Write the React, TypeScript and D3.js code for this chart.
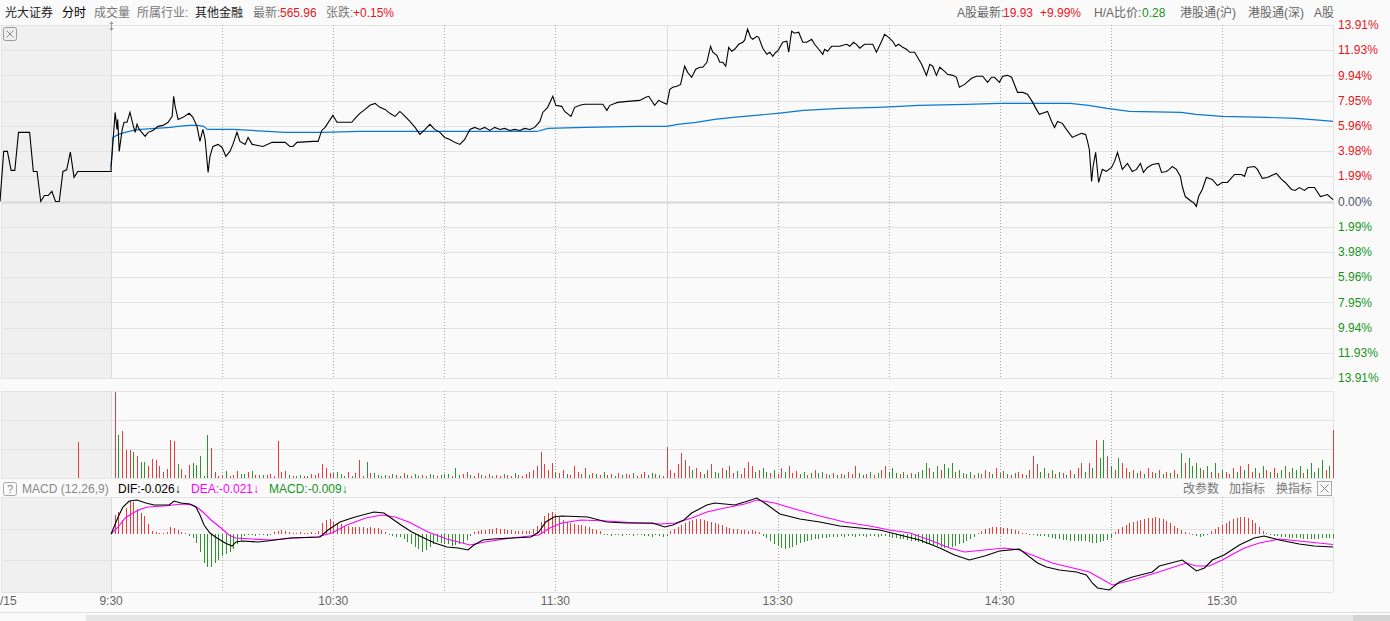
import React from 'react';
import * as d3 from 'd3';

// pre-market 09:00-09:30, % change, one value per minute
const preMarketPct = [
  0, 3.95, 3.95, 2.45, 2.45, 5.45, 5.45, 5.45, 5.45, 2.37, 2.37, 0, 0.47, 0.47, 0.8, 0,
  0, 2.37, 2.5, 3.9, 1.9, 2.37, 2.37, 2.37, 2.37, 2.37, 2.37, 2.37, 2.37, 2.37, 2.37,
];

// main session: [minutes after 09:30 (lunch removed), % change]
const price: [number, number][] = [
  [0, 2.76], [1.1, 7.02], [1.6, 5.68], [1.8, 6.47], [2.2, 3.95], [3.0, 5.68], [3.5, 6.24], [4.3, 6.24],
  [5.1, 7.02], [5.9, 6.08], [6.5, 5.45], [7.0, 6.08], [7.6, 5.68], [9.2, 5.13], [10.0, 5.45], [11.3, 5.6],
  [12.7, 5.92], [14.0, 6.0], [15.4, 6.24], [16.5, 6.71], [16.9, 8.29], [17.3, 7.5], [18.1, 6.47], [19.4, 6.63],
  [21.1, 6.95], [22.1, 6.63], [23.2, 5.92], [24.0, 4.74], [24.8, 5.68], [25.4, 4.89], [26.2, 2.29], [26.7, 3.55],
  [27.5, 4.34], [28.9, 4.5], [30.0, 4.26], [31.0, 3.55], [32.1, 3.95], [32.9, 4.5], [34.0, 5.45], [34.8, 4.74],
  [36.2, 4.5], [37.0, 5.05], [38.1, 4.5], [39.7, 4.42], [41.0, 4.34], [43.5, 4.66], [47.0, 4.66], [48.3, 4.34],
  [49.1, 4.34], [50.2, 4.66], [54.5, 4.74], [55.9, 4.74], [56.9, 5.6], [57.8, 5.84], [59.9, 6.79], [61.0, 6.24],
  [65.0, 6.24], [65.9, 6.55], [67.2, 6.95], [68.6, 7.26], [69.9, 7.58], [71.3, 7.73], [72.6, 7.42], [74.0, 7.26],
  [75.3, 6.95], [76.7, 6.71], [78.0, 7.1], [79.4, 6.71], [80.7, 6.31], [82.1, 5.84], [83.4, 5.29], [84.8, 5.68],
  [86.1, 6.08], [87.4, 5.68], [88.8, 5.45], [90.1, 5.05], [91.5, 4.89], [92.8, 4.66], [94.2, 4.5], [95.5, 4.89],
  [96.9, 5.68], [98.2, 5.84], [99.6, 5.68], [100.9, 5.84], [102.3, 5.6], [103.6, 5.84], [105.0, 5.68], [106.3, 5.76],
  [107.7, 5.6], [109.0, 5.68], [110.4, 5.6], [111.7, 5.76], [113.1, 5.68], [114.4, 5.84], [115.8, 6.31], [116.6, 7.02],
  [117.9, 7.42], [119.3, 8.29], [120.1, 7.58], [121.7, 7.5], [122.5, 7.1], [124.2, 6.71], [125.2, 7.42], [126.6, 7.58],
  [127.9, 7.66], [132.8, 7.66], [133.9, 7.18], [134.7, 7.58], [136.0, 7.73], [136.8, 7.81], [139.5, 7.89], [142.8, 7.97],
  [144.4, 8.21], [145.2, 8.29], [146.8, 7.58], [147.9, 7.97], [149.0, 7.81], [150.1, 7.66], [150.9, 8.84], [151.7, 9.0],
  [152.8, 9.08], [153.8, 9.23], [154.9, 10.66], [155.7, 10.18], [156.8, 9.79], [157.9, 10.42], [159.0, 10.58], [159.8, 10.58],
  [160.9, 10.97], [161.9, 12.23], [162.5, 11.76], [163.6, 11.52], [164.4, 10.97], [165.2, 10.97], [166.0, 10.66], [166.8, 12.15],
  [167.6, 11.84], [168.4, 12.0], [169.5, 12.39], [170.6, 12.55], [171.1, 12.71], [171.9, 13.58], [172.7, 12.94], [173.3, 12.79],
  [174.4, 13.02], [174.9, 12.94], [176.0, 12.08], [177.1, 11.6], [177.9, 11.76], [178.7, 11.44], [179.5, 11.76], [180.0, 11.84],
  [181.4, 12.55], [182.5, 12.63], [183.0, 11.76], [183.8, 13.42], [184.6, 13.26], [185.7, 13.34], [186.8, 12.55], [187.9, 12.55],
  [189.2, 12.79], [190.0, 12.39], [191.1, 12.0], [192.2, 11.6], [192.7, 12.0], [193.5, 11.84], [194.6, 12.23], [196.8, 12.23],
  [197.6, 12.31], [198.7, 12.39], [199.5, 12.23], [200.5, 12.55], [201.3, 12.39], [202.2, 12.08], [203.5, 12.39], [205.7, 12.39],
  [206.7, 11.76], [208.1, 12.63], [208.9, 13.18], [210.0, 12.94], [211.1, 12.63], [211.9, 12.23], [212.7, 12.39], [213.8, 12.15],
  [214.8, 12.0], [215.7, 11.76], [217.0, 11.76], [217.8, 11.37], [218.9, 10.81], [220.2, 9.94], [221.1, 10.81], [221.9, 10.66],
  [222.9, 9.94], [223.8, 10.58], [225.1, 10.26], [225.9, 10.02], [227.3, 9.94], [228.3, 9.79], [229.1, 9.0], [230.5, 9.23],
  [232.4, 9.71], [233.7, 9.87], [235.4, 9.87], [236.7, 9.39], [237.8, 9.79], [238.6, 9.79], [239.9, 9.39], [240.8, 9.87],
  [242.1, 9.94], [243.2, 9.79], [244.8, 8.6], [246.2, 8.6], [247.5, 8.45], [248.9, 7.81], [249.9, 7.26], [250.7, 6.87],
  [252.1, 7.02], [252.9, 7.1], [254.0, 6.31], [254.8, 5.84], [255.6, 6.31], [256.9, 6.16], [258.0, 5.68], [259.6, 5.05],
  [260.7, 5.21], [262.1, 5.37], [263.2, 5.29], [263.7, 4.74], [264.2, 4.1], [264.8, 1.58], [265.2, 2.76], [265.9, 3.87],
  [266.7, 1.5], [267.7, 2.53], [268.8, 2.37], [270.2, 2.68], [271.0, 3.16], [271.8, 3.87], [273.1, 2.53], [274.5, 3.0],
  [275.8, 2.37], [276.9, 2.53], [278.0, 3.0], [278.8, 2.29], [279.9, 2.68], [281.2, 2.92], [282.9, 3.0], [283.7, 2.29],
  [285.0, 2.37], [285.8, 2.53], [286.6, 2.76], [287.7, 2.53], [288.8, 1.97], [289.3, 1.18], [290.1, 0.39], [291.8, 0.0],
  [292.3, -0.08], [293.1, -0.39], [293.7, 0.39], [294.7, 0.95], [295.8, 1.89], [297.4, 1.74], [298.8, 1.26], [300.1, 1.5],
  [301.5, 1.5], [303.4, 2.13], [305.3, 2.13], [306.1, 1.97], [306.9, 2.68], [308.8, 2.76], [309.6, 2.53], [310.9, 1.82],
  [312.3, 1.89], [313.4, 2.05], [314.7, 2.21], [316.1, 1.74], [317.1, 1.5], [318.8, 0.95], [319.8, 0.87], [320.9, 1.1],
  [322.3, 0.87], [323.3, 1.1], [325.0, 1.1], [326.6, 0.39], [327.7, 0.47], [328.5, 0.55], [330, 0.15],
];

// average price line, % change
const avgPrice: [number, number][] = [
  [0, 2.76], [0.3, 3.87], [0.5, 5.05], [2, 5.29], [3.8, 5.45], [6, 5.6], [8, 5.68], [16, 5.84], [18, 5.92],
  [21, 6.0], [23.5, 6.0], [25, 5.92], [26, 5.68], [33, 5.68], [47, 5.45], [57, 5.45], [67, 5.52], [115, 5.52],
  [118, 5.76], [128, 5.84], [142, 5.92], [150, 5.92], [153, 6.08], [158, 6.24], [163, 6.47], [168, 6.63],
  [174, 6.79], [180, 6.95], [187, 7.18], [197, 7.34], [207, 7.42], [213, 7.5], [218, 7.58], [231, 7.66],
  [240, 7.73], [259, 7.73], [264, 7.58], [269, 7.34], [275, 7.1], [289, 7.02], [293, 6.87], [300, 6.71],
  [312, 6.63], [320, 6.55], [327, 6.39], [330, 6.31],
];

const pctTicks = [13.91, 11.93, 9.94, 7.95, 5.96, 3.98, 1.99, 0, -1.99, -3.98, -5.96, -7.95, -9.94, -11.93, -13.91];

const timeTickMin = [0, 60, 120, 180, 240, 300];
const timeTickLabels = ['9:30', '10:30', '11:30', '13:30', '14:30', '15:30'];
const dottedMin = [30, 60, 90, 120, 180, 210, 240, 270, 300];
const solidMin = [0, 150];

// pre-market auction volume
const preVolume: [number, number][] = [[-9, 36]];

// per-minute volume, minutes 1..330
const volume = [
  86, 43, 47, 28, 28, 26, 22, 16, 16, 12,
  19, 18, 12, 6, 9, 38, 37, 14, 9, 3,
  13, 15, 13, 22, 2, 43, 30, 6, 2, 3,
  7, 2, 3, 7, 4, 4, 6, 7, 3, 3,
  3, 3, 4, 2, 37, 6, 7, 3, 2, 2,
  3, 2, 2, 4, 3, 5, 14, 10, 5, 5,
  6, 4, 2, 6, 2, 5, 18, 2, 16, 5,
  5, 3, 2, 3, 2, 4, 3, 2, 5, 3,
  2, 4, 2, 3, 2, 4, 3, 2, 3, 4,
  4, 2, 10, 3, 4, 6, 3, 2, 5, 3,
  2, 4, 2, 3, 2, 4, 3, 2, 5, 3,
  2, 4, 6, 8, 12, 26, 14, 8, 15, 6,
  5, 8, 4, 3, 12, 6, 4, 10, 3, 5,
  4, 3, 6, 3, 4, 2, 5, 3, 4, 3,
  5, 2, 4, 6, 3, 5, 4, 3, 2, 31,
  8, 5, 14, 25, 18, 12, 8, 10, 6, 4,
  8, 14, 6, 5, 10, 8, 12, 5, 7, 4,
  10, 16, 12, 6, 8, 10, 6, 5, 8, 4,
  10, 6, 12, 5, 7, 4, 6, 3, 5, 8,
  5, 6, 4, 3, 5, 3, 4, 3, 6, 4,
  12, 5, 3, 4, 6, 3, 5, 8, 12, 6,
  10, 5, 4, 6, 3, 5, 4, 6, 8, 15,
  10, 6, 12, 8, 14, 10, 15, 6, 8, 5,
  4, 6, 3, 5, 4, 8, 6, 4, 10, 5,
  7, 4, 3, 5, 6, 4, 3, 8, 22, 14,
  6, 10, 5, 8, 4, 6, 5, 3, 8, 4,
  10, 15, 6, 15, 10, 38, 20, 38, 22, 12,
  8, 20, 15, 10, 6, 8, 5, 7, 4, 10,
  6, 5, 8, 4, 6, 5, 8, 4, 25, 15,
  20, 12, 15, 10, 8, 12, 6, 15, 5, 8,
  6, 4, 10, 6, 12, 8, 14, 6, 10, 5,
  12, 8, 6, 10, 5, 8, 12, 6, 10, 8,
  12, 5, 9, 15, 6, 10, 18, 8, 12, 48,
];
// r = up minute, g = down minute
const volumeDir = [
  'rgrrrgrggr', 'rrrrrrrgrr', 'rgggggrrrr', 'grrrggrgrr', 'grrrrrrgrg',
  'grgrrrrrrr', 'gggrgrrrgr', 'ggggrgrgrg', 'rggrrggrgg', 'grggrrgrrg',
  'rrgrrgrrgr', 'rrrrrrrrrg', 'rrgrrrgrgr', 'grgrrgrgrr', 'grrrggrgrr',
  'rrrrrrgrrg', 'rrggrgrrgr', 'rrrgrggrgr', 'rgrrrggrgr', 'ggrgrgrgrr',
  'rggrgrgrrg', 'ggrggrgggg', 'rggrgggrgg', 'ggrgrrrgrg', 'rgrgrrgrrr',
  'ggrgrgrgrg', 'rrgrgrggrg', 'rgrrgrgrgr', 'rgrgrgrggr', 'ggggrgrgrg',
  'rrrgrgrrgr', 'grgrgggrgg', 'grgggggrgr',
].join('');

// MACD(12,26,9)
const dif: [number, number][] = [
  [0, 0], [1.9, 0.034], [3.2, 0.054], [4.9, 0.066], [7.0, 0.068], [9.4, 0.062], [11.6, 0.058], [15.7, 0.058],
  [17.0, 0.066], [18.9, 0.062], [21.3, 0.06], [22.9, 0.054], [24.0, 0.038], [25.1, 0.018], [26.7, 0.002],
  [28.6, -0.008], [30.8, -0.018], [32.7, -0.024], [33.7, -0.016], [35.4, -0.014], [39.9, -0.016], [44.3, -0.012],
  [48.3, -0.008], [56.4, -0.006], [58.6, 0.008], [61.8, 0.024], [65.9, 0.034], [71.0, 0.044], [73.7, 0.042],
  [75.6, 0.032], [78.3, 0.018], [81.2, 0.004], [84.5, -0.008], [87.4, -0.018], [90.7, -0.026], [93.7, -0.028],
  [96.4, -0.032], [98.0, -0.022], [100.4, -0.012], [103.1, -0.01], [113.4, -0.006], [115.5, 0.004], [117.4, 0.024],
  [119.6, 0.034], [121.7, 0.036], [128.7, 0.034], [133.9, 0.024], [139.3, 0.022], [146.3, 0.022], [149.5, 0.014],
  [151.7, 0.018], [154.7, 0.028], [156.8, 0.042], [160.9, 0.058], [163.0, 0.062], [168.4, 0.058], [171.1, 0.064],
  [174.4, 0.072], [177.3, 0.058], [180.6, 0.04], [186.0, 0.03], [191.4, 0.024], [196.8, 0.016], [202.2, 0.012],
  [207.6, 0.008], [213.0, -0.002], [218.4, -0.012], [223.8, -0.028], [227.8, -0.042], [231.8, -0.052],
  [235.9, -0.044], [239.9, -0.034], [245.3, -0.03], [250.2, -0.058], [252.6, -0.066], [256.1, -0.072],
  [260.7, -0.076], [263.4, -0.082], [265.0, -0.098], [266.4, -0.108], [269.6, -0.112], [272.3, -0.096],
  [275.8, -0.086], [281.2, -0.076], [283.1, -0.064], [289.3, -0.052], [293.1, -0.074], [295.3, -0.068],
  [297.4, -0.052], [300.6, -0.042], [304.7, -0.022], [308.7, -0.008], [311.4, -0.004], [315.5, -0.012],
  [320.9, -0.02], [324.9, -0.024], [330, -0.026],
];
const dea: [number, number][] = [
  [0, 0], [1.9, 0.014], [3.8, 0.032], [5.9, 0.042], [8.1, 0.05], [10.0, 0.054], [14.3, 0.056], [16.7, 0.058],
  [19.4, 0.06], [21.9, 0.058], [23.5, 0.052], [25.1, 0.042], [27.0, 0.028], [29.7, 0.012], [31.8, -0.002],
  [33.7, -0.008], [38.1, -0.01], [43.2, -0.012], [49.4, -0.008], [55.6, -0.006], [59.6, 0.002], [63.7, 0.018],
  [68.8, 0.032], [73.1, 0.038], [76.7, 0.034], [80.4, 0.024], [85.6, 0.004], [90.7, -0.01], [96.9, -0.022],
  [100.9, -0.016], [108.2, -0.008], [115.5, -0.002], [118.5, 0.012], [121.7, 0.022], [126.9, 0.028],
  [133.9, 0.026], [142.2, 0.022], [148.4, 0.02], [152.5, 0.022], [156.8, 0.032], [160.9, 0.044], [165.7, 0.052],
  [171.1, 0.06], [174.4, 0.068], [179.2, 0.062], [184.6, 0.05], [191.4, 0.036], [198.1, 0.024], [204.9, 0.016],
  [210.3, 0.008], [215.7, 0.002], [221.1, -0.012], [226.5, -0.028], [230.5, -0.036], [235.9, -0.032],
  [241.3, -0.028], [245.3, -0.032], [254.2, -0.058], [264.2, -0.076], [270.4, -0.102], [275.8, -0.092],
  [281.2, -0.08], [290.4, -0.058], [293.1, -0.064], [296.6, -0.064], [300.1, -0.052], [303.0, -0.04],
  [306.1, -0.028], [310.1, -0.018], [315.5, -0.01], [320.9, -0.014], [330, -0.021],
];
// MACD histogram, minutes 0..330, in units of 0.001
const macdHist = [
  0, 38, 44, 28, 52, 66, 64, 50, 42, 36, 20, 6, 4, 2, 2, 4, 14, 12, 8, 4, 2,
  -4, -8, -18, -36, -58, -66, -66, -58, -52, -44, -40, -36, -30, -20, -12, -4,
  -2, -2, -4, -2, -2, -4, -2,
  4, 6, 8, 6, 4, 2, 2, 4, 2, 2, 4, 2, 6,
  22, 28, 30, 24, 22, 20, 16, 16, 14, 14, 14, 14, 12, 14, 12, 12, 8, 4,
  -2, -4, -6, -6, -10, -16, -20, -26, -30, -36, -32, -26, -20,
  -16, -18, -20, -20, -24, -22, -20, -18, -12, -4,
  4, 6, 8, 8, 10, 10, 12, 10, 10, 8, 8, 6, 6, 6, 6, 6,
  10, 16, 24, 36, 42, 44, 40,
  34, 28, 24, 22, 20, 18, 18, 16, 14, 10, 8, 6,
  -2, -2, -4, -2, -2, -4, -2, -2, -4, -2, -2, -4, -4, -6, -2, -4, -6, -4,
  6, 10, 14, 18, 22, 26, 28, 30, 30, 28,
  26, 24, 22, 20, 18, 14, 12, 10, 10, 8, 8, 6, 8, 6, 4,
  -4, -8, -14, -20, -24, -28, -30, -28, -26, -22,
  -18, -16, -14, -12, -10, -10, -8, -8, -6, -6,
  -6, -4, -6, -4, -4, -6, -4, -4, -6, -4, -4, -6, -4, -4, -6,
  -8, -8, -10, -10, -12, -14, -14, -16, -18, -20, -20, -22,
  -24, -26, -28, -28, -26, -24, -20, -18, -14, -10, -6,
  2, 6, 10, 12, 14, 14, 14, 12, 12, 10, 8, 6,
  2, 2, -2, -2, -4, -4, -4,
  -6, -8, -10, -10, -12, -12, -14, -14, -14, -14,
  -14, -16, -18, -18, -16, -14, -12, -8,
  4, 10, 14, 18, 22, 24, 26, 28, 30, 32, 32, 34, 32, 30, 26,
  22, 16, 12, 8, 4, 2, -2,
  -4, -6, -4, -2,
  6, 10, 14, 18, 22, 26, 30, 32, 34, 34, 32, 28, 22, 14,
  6, 2, -2, -4, -4, -6, -6, -8, -8, -8, -8, -10, -10, -10, -10, -10, -8, -8, -8, -9,
];

const FONT = '"Liberation Sans", Arial, "Noto Sans CJK SC", sans-serif';
const RED = '#e8161d';
const GREEN = '#16951c';
const BAR_RED = '#e83b3b';
const BAR_GREEN = '#2b952b';
const GRID = '#e3e3e3';

const PLOT_L = 1;
const PLOT_R = 1333;
const MAIN = { top: 25, bottom: 378 };
const VOL = { top: 391, bottom: 478 };
const MACD = { top: 497, bottom: 592 };

export default function App() {
  const x = d3.scaleLinear().domain([-30, 330]).range([0, PLOT_R]);
  const yP = d3.scaleLinear().domain([-13.91, 13.91]).range([MAIN.bottom, MAIN.top]);
  const yV = d3.scaleLinear().domain([0, 87]).range([VOL.bottom, VOL.top]);
  const yM = d3.scaleLinear().domain([-0.116, 0.074]).range([MACD.bottom, MACD.top]);

  const priceLine = d3.line<[number, number]>().x((d) => x(d[0])).y((d) => yP(d[1]));
  const macdLine = d3.line<[number, number]>().x((d) => x(d[0])).y((d) => yM(d[1]));

  const pricePts: [number, number][] = [
    ...preMarketPct.map((v, i) => [i - 30, v] as [number, number]),
    ...price,
  ];

  const px = (m: number) => Math.round(x(m)) + 0.5;
  const panels = [MAIN, VOL, MACD];
  const volGrid = d3.range(4).map((i) => VOL.top + (i * (VOL.bottom - VOL.top)) / 3);
  const macdGrid = d3.range(4).map((i) => MACD.top + (i * (MACD.bottom - MACD.top)) / 3);

  const last = (a: [number, number][]) => a[a.length - 1][1];
  const macdLast = macdHist[macdHist.length - 1] / 1000;

  return (
    <div style={{ position: 'fixed', left: 0, top: 0 }}>
      <svg width={1390} height={621} style={{ display: 'block', background: '#fafafa' }} fontFamily={FONT} fontSize={12}>
        {/* pre-market shaded zone */}
        {panels.map((p, i) => (
          <rect key={i} x={PLOT_L + 1} y={p.top} width={px(0) - PLOT_L - 1.5} height={p.bottom - p.top} fill="#f0f0f0" />
        ))}

        {/* horizontal grid */}
        {pctTicks.map((t) => (
          <line key={t} x1={PLOT_L} x2={PLOT_R} y1={Math.round(yP(t)) + 0.5} y2={Math.round(yP(t)) + 0.5}
            stroke={t === 0 ? '#d6d6d6' : GRID} strokeWidth={t === 0 ? 2 : 1} />
        ))}
        {volGrid.map((g) => (
          <line key={g} x1={PLOT_L} x2={PLOT_R} y1={Math.round(g) + 0.5} y2={Math.round(g) + 0.5} stroke={GRID} />
        ))}
        {macdGrid.map((g) => (
          <line key={g} x1={PLOT_L} x2={PLOT_R} y1={Math.round(g) + 0.5} y2={Math.round(g) + 0.5} stroke={GRID} />
        ))}

        {/* vertical grid */}
        {panels.map((p, i) => (
          <g key={i}>
            <line x1={PLOT_L + 0.5} x2={PLOT_L + 0.5} y1={p.top} y2={p.bottom} stroke={GRID} />
            <line x1={PLOT_R + 0.5} x2={PLOT_R + 0.5} y1={p.top} y2={p.bottom} stroke={GRID} />
            {solidMin.map((m) => (
              <line key={m} x1={px(m)} x2={px(m)} y1={p.top} y2={p.bottom} stroke="#dddddd" />
            ))}
            {dottedMin.map((m) => (
              <line key={m} x1={px(m)} x2={px(m)} y1={p.top} y2={p.bottom} stroke="#a8a8a8" strokeDasharray="1,2" />
            ))}
          </g>
        ))}

        {/* right axis labels */}
        {pctTicks.map((t) => (
          <text key={t} x={1338} y={yP(t)} dy="0.35em" fontSize={12}
            fill={t > 0 ? RED : t < 0 ? GREEN : '#4d5670'}>
            {Math.abs(t).toFixed(2)}%
          </text>
        ))}

        {/* price and average lines */}
        <path d={priceLine(avgPrice) ?? ''} fill="none" stroke="#0a78d2" strokeWidth={1.2} />
        <path d={priceLine(pricePts) ?? ''} fill="none" stroke="#000" strokeWidth={1.1} />

        {/* volume */}
        {preVolume.map(([m, v]) => (
          <line key={m} x1={px(m)} x2={px(m)} y1={yV(0)} y2={yV(v)} stroke={BAR_RED} />
        ))}
        {volume.map((v, i) => (
          <line key={i} x1={px(i + 1)} x2={px(i + 1)} y1={yV(0)} y2={yV(v)}
            stroke={volumeDir[i] === 'r' ? BAR_RED : BAR_GREEN} />
        ))}

        {/* MACD */}
        {macdHist.map((v, i) => (v === 0 ? null : (
          <line key={i} x1={px(i)} x2={px(i)} y1={yM(0)} y2={yM(v / 1000)}
            stroke={v > 0 ? BAR_RED : BAR_GREEN} />
        )))}
        <path d={macdLine(dea) ?? ''} fill="none" stroke="#ff00ff" strokeWidth={1.1} />
        <path d={macdLine(dif) ?? ''} fill="none" stroke="#000" strokeWidth={1.1} />

        {/* header */}
        <g fontFamily={'"Liberation Sans", "Noto Sans CJK SC", sans-serif'}>
          <text x={5} y={17} fill="#222">光大证券</text>
          <text x={62} y={17} fill="#000">分时</text>
          <text x={94} y={17} fill="#777">成交量</text>
          <text x={137} y={17} fill="#777">所属行业:</text>
          <text x={195} y={17} fill="#222">其他金融</text>
          <text x={253} y={17} fill="#777">最新:</text>
          <text x={280} y={17} fill={RED}>565.96</text>
          <text x={326} y={17} fill="#777">张跌:</text>
          <text x={353} y={17} fill={RED}>+0.15%</text>

          <text x={957} y={17} fill="#666">A股最新:</text>
          <text x={1003} y={17} fill={RED}>19.93</text>
          <text x={1040} y={17} fill={RED}>+9.99%</text>
          <text x={1094} y={17} fill="#666">H/A比价:</text>
          <text x={1142} y={17} fill={GREEN}>0.28</text>
          <text x={1180} y={17} fill="#666">港股通(沪)</text>
          <text x={1248} y={17} fill="#666">港股通(深)</text>
          <text x={1314} y={17} fill="#666">A股</text>
        </g>

        {/* close box + drag handle on main panel */}
        <rect x={3.5} y={27.5} width={13} height={13} rx={2} fill="none" stroke="#9a9a9a" />
        <path d="M6.5,30.5 L13.5,37.5 M13.5,30.5 L6.5,37.5" stroke="#888" />
        <path d="M111.5,21 L113.5,24 L109.5,24 Z M111.5,31 L113.5,28 L109.5,28 Z" fill="#9a9a9a" />
        <line x1={111.5} x2={111.5} y1={23} y2={29} stroke="#9a9a9a" />

        {/* MACD header row */}
        <rect x={3.5} y={482.5} width={13} height={13} rx={2} fill="#fafafa" stroke="#a8a8a8" />
        <text x={10} y={493} textAnchor="middle" fill="#888" fontSize={11}>?</text>
        <text x={22} y={493} fill="#888">MACD (12,26,9)</text>
        <text x={118} y={493} fill="#000">DIF:{last(dif).toFixed(3)}↓</text>
        <text x={191} y={493} fill="#ff00ff">DEA:{last(dea).toFixed(3)}↓</text>
        <text x={269} y={493} fill={GREEN}>MACD:{macdLast.toFixed(3)}↓</text>
        <g fontFamily={'"Noto Sans CJK SC", sans-serif'}>
          <text x={1183} y={493} fill="#777">改参数</text>
          <text x={1229} y={493} fill="#777">加指标</text>
          <text x={1276} y={493} fill="#777">换指标</text>
        </g>
        <rect x={1317.5} y={481.5} width={14} height={14} fill="#fafafa" stroke="#a8a8a8" />
        <path d="M1320.5,484.5 L1328.5,492.5 M1328.5,484.5 L1320.5,492.5" stroke="#888" />

        {/* time axis */}
        <line x1={0} x2={1390} y1={612.5} y2={612.5} stroke="#e0e0e0" />
        <text x={0} y={605} fill="#666">/15</text>
        {timeTickMin.map((m, i) => (
          <text key={m} x={x(m)} y={605} textAnchor="middle" fill="#666">{timeTickLabels[i]}</text>
        ))}

        {/* status strip at the bottom edge */}
        <rect x={86} y={615} width={1304} height={6} fill="#e6e6e6" />
        <rect x={1353} y={615} width={37} height={6} fill="#d4d4d4" />
      </svg>
    </div>
  );
}
